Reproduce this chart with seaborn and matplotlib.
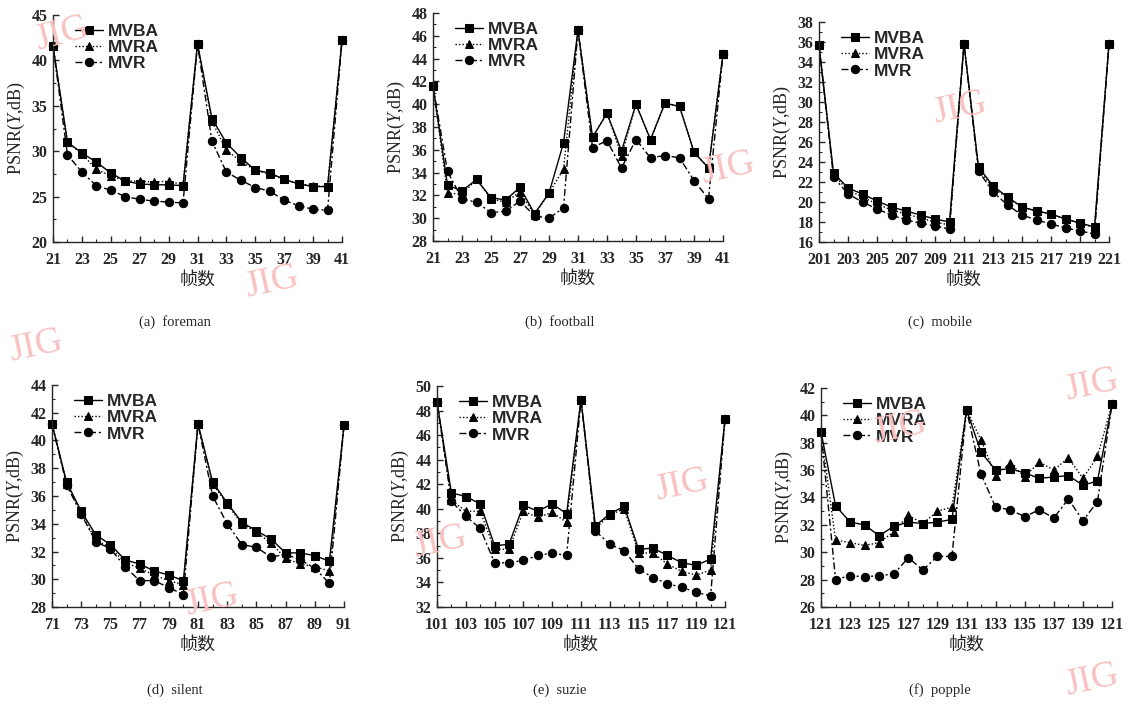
import numpy as np
import pandas as pd
import matplotlib
matplotlib.use("Agg")
import matplotlib.pyplot as plt
import seaborn as sns
from matplotlib.ticker import MultipleLocator

# ---------------- data ----------------
methods = ["MVBA", "MVRA", "MVR"]

frames_a = list(range(21, 42))
mvba_a = [41.6, 31.0, 29.8, 28.8, 27.6, 26.7, 26.4, 26.3, 26.3, 26.2, 41.8, 33.6, 30.9, 29.3, 27.9, 27.6, 26.9, 26.4, 26.1, 26.1, 42.2]
mvra_a = [41.6, 31.0, 29.7, 28.0, 27.3, 26.7, 26.7, 26.6, 26.7, 26.3, 41.8, 33.3, 30.1, 28.9, 27.9, 27.5, 26.9, 26.4, 26.2, 26.1, 42.2]
mvr_a = [41.6, 29.6, 27.7, 26.2, 25.7, 25.0, 24.7, 24.5, 24.4, 24.3, 41.8, 31.1, 27.7, 26.8, 26.0, 25.6, 24.6, 24.0, 23.6, 23.5, 42.2]

frames_b = list(range(21, 42))
mvba_b = [41.6, 32.9, 32.4, 33.4, 31.8, 31.6, 32.7, 30.4, 32.2, 36.6, 46.5, 37.1, 39.2, 35.9, 40.0, 36.9, 40.1, 39.8, 35.8, 34.4, 44.4]
mvra_b = [41.6, 32.2, 32.1, 33.4, 31.7, 31.4, 32.3, 30.3, 32.2, 34.3, 46.5, 37.1, 39.2, 35.5, 40.0, 36.9, 40.1, 39.8, 35.8, 34.4, 44.4]
mvr_b = [41.6, 34.1, 31.7, 31.4, 30.5, 30.6, 31.5, 30.2, 30.0, 30.9, 46.5, 36.2, 36.8, 34.4, 36.9, 35.3, 35.5, 35.3, 33.3, 31.7, 44.4]

frames_c = list(range(201, 222))
mvba_c = [35.7, 22.9, 21.4, 20.8, 20.1, 19.5, 19.1, 18.7, 18.3, 18.0, 35.8, 23.5, 21.6, 20.5, 19.5, 19.1, 18.8, 18.3, 17.9, 17.5, 35.8]
mvra_c = [35.7, 22.7, 21.2, 20.5, 19.8, 19.2, 18.8, 18.4, 18.0, 17.7, 35.8, 23.3, 21.4, 20.4, 19.5, 19.1, 18.8, 18.3, 17.9, 17.4, 35.8]
mvr_c = [35.7, 22.5, 20.8, 20.0, 19.3, 18.7, 18.2, 17.9, 17.6, 17.3, 35.8, 23.1, 21.0, 19.7, 18.7, 18.2, 17.8, 17.4, 17.1, 16.8, 35.8]

frames_d = list(range(71, 92))
mvba_d = [41.2, 37.0, 34.9, 33.2, 32.5, 31.4, 31.1, 30.6, 30.3, 29.9, 41.2, 37.0, 35.5, 34.1, 33.5, 32.9, 31.9, 31.9, 31.7, 31.3, 41.1]
mvra_d = [41.2, 36.9, 34.8, 32.8, 32.3, 31.2, 30.8, 30.3, 29.9, 29.6, 41.2, 36.9, 35.4, 34.0, 33.4, 32.6, 31.5, 31.1, 30.9, 30.6, 41.1]
mvr_d = [41.2, 36.8, 34.7, 32.7, 32.2, 30.9, 29.9, 29.9, 29.4, 28.9, 41.2, 36.0, 34.0, 32.5, 32.3, 31.6, 31.8, 31.4, 30.8, 29.7, 41.1]

frames_e = list(range(101, 122))
mvba_e = [48.7, 41.3, 41.0, 40.4, 37.0, 37.1, 40.3, 39.8, 40.4, 39.6, 48.9, 38.6, 39.6, 40.2, 36.7, 36.8, 36.2, 35.6, 35.4, 35.9, 47.3]
mvra_e = [48.7, 40.7, 39.8, 39.8, 36.7, 36.7, 39.8, 39.3, 39.7, 38.9, 48.9, 38.4, 39.5, 40.0, 36.4, 36.4, 35.5, 34.9, 34.6, 35.0, 47.3]
mvr_e = [48.7, 40.6, 39.4, 38.4, 35.6, 35.6, 35.8, 36.2, 36.4, 36.2, 48.9, 38.2, 37.1, 36.6, 35.1, 34.4, 33.9, 33.6, 33.2, 32.9, 47.3]

frames_f = list(range(121, 142))
mvba_f = [38.8, 33.4, 32.2, 32.0, 31.2, 31.9, 32.2, 32.1, 32.2, 32.4, 40.4, 37.3, 36.0, 36.1, 35.8, 35.4, 35.5, 35.6, 34.9, 35.2, 40.8]
mvra_f = [38.8, 30.9, 30.7, 30.5, 30.7, 31.5, 32.7, 32.1, 33.0, 33.3, 40.4, 38.2, 35.6, 36.5, 35.5, 36.6, 36.0, 36.9, 35.4, 37.0, 40.8]
mvr_f = [38.8, 28.0, 28.3, 28.2, 28.3, 28.4, 29.6, 28.7, 29.7, 29.7, 40.4, 35.7, 33.3, 33.1, 32.6, 33.1, 32.5, 33.9, 32.3, 33.7, 40.8]

ticks_a = ["21", "23", "25", "27", "29", "31", "33", "35", "37", "39", "41"]
ticks_b = ticks_a
ticks_c = ["201", "203", "205", "207", "209", "211", "213", "215", "217", "219", "221"]
ticks_d = ["71", "73", "75", "77", "79", "81", "83", "85", "87", "89", "91"]
ticks_e = ["101", "103", "105", "107", "109", "111", "113", "115", "117", "119", "121"]
ticks_f = ["121", "123", "125", "127", "129", "131", "133", "135", "137", "139", "121"]

captions = ["(a)  foreman", "(b)  football", "(c)  mobile", "(d)  silent", "(e)  suzie", "(f)  popple"]

panels = [
    (frames_a, mvba_a, mvra_a, mvr_a, ticks_a, (20, 45), 5),
    (frames_b, mvba_b, mvra_b, mvr_b, ticks_b, (28, 48), 2),
    (frames_c, mvba_c, mvra_c, mvr_c, ticks_c, (16, 38), 2),
    (frames_d, mvba_d, mvra_d, mvr_d, ticks_d, (28, 44), 2),
    (frames_e, mvba_e, mvra_e, mvr_e, ticks_e, (32, 50), 2),
    (frames_f, mvba_f, mvra_f, mvr_f, ticks_f, (26, 42), 2),
]

# ---------------- style ----------------
sns.set_style("ticks")
plt.rcParams["font.family"] = ["Liberation Serif", "Noto Sans CJK SC", "DejaVu Sans"]
plt.rcParams["mathtext.fontset"] = "custom"
plt.rcParams["mathtext.rm"] = "Liberation Serif"
plt.rcParams["mathtext.it"] = "Liberation Serif:italic"
plt.rcParams["axes.linewidth"] = 1.0

fig = plt.figure(figsize=(11.32, 7.04), dpi=100)
W, H = 1132, 704
boxes = [
    (53, 15, 342, 242), (433, 13, 723, 241), (819, 22, 1109, 242),
    (52, 385, 344, 607), (437, 386, 725, 607), (821, 388, 1112, 607),
]

# watermarks
wm = [(62, 34, 15), (272, 282, 12), (36, 346, 12), (728, 168, 12), (960, 108, 12),
      (212, 600, 12), (440, 542, 12), (682, 485, 12), (900, 428, 12), (1092, 680, 12), (1092, 385, 12)]
for x, y, r in wm:
    fig.text(x / W, 1 - y / H, "JIG", color="#f9c2c2", fontsize=27, family="Liberation Serif",
             rotation=r, ha="center", va="center", zorder=0)

palette = {m: "black" for m in methods}
markers = {"MVBA": "s", "MVRA": "^", "MVR": "o"}
dashes = {"MVBA": "", "MVRA": (1, 1.5), "MVR": (5, 2, 1.5, 2)}

for i, (fr, a, b, c, tl, ylim, ymaj) in enumerate(panels):
    x0, y0, x1, y1 = boxes[i]
    ax = fig.add_axes([x0 / W, 1 - y1 / H, (x1 - x0) / W, (y1 - y0) / H])
    df = pd.DataFrame({
        "frame": fr * 3,
        "psnr": a + b + c,
        "method": ["MVBA"] * len(fr) + ["MVRA"] * len(fr) + ["MVR"] * len(fr),
    })
    sns.lineplot(data=df, x="frame", y="psnr", hue="method", style="method",
                 hue_order=methods, style_order=methods, palette=palette,
                 markers=markers, dashes=dashes, markersize=6, linewidth=1.0,
                 markeredgecolor="black", ax=ax, legend=True, clip_on=False)
    handles, labels = ax.get_legend_handles_labels()
    ax.legend(handles, labels, loc="upper left", bbox_to_anchor=(0.04, 1.005), frameon=False,
              prop={"family": "Liberation Sans", "weight": "bold", "size": 12.5},
              handlelength=1.6, handletextpad=0.3, labelspacing=0.05, borderaxespad=0.2)
    ax.set_xlim(fr[0], fr[-1])
    ax.set_ylim(*ylim)
    ax.set_xticks(fr[::2])
    ax.set_xticklabels(tl)
    ax.xaxis.set_minor_locator(MultipleLocator(1))
    ax.yaxis.set_major_locator(MultipleLocator(ymaj))
    ax.yaxis.set_minor_locator(MultipleLocator(ymaj / 2))
    ax.tick_params(axis="both", which="major", direction="in", length=4, width=1,
                   labelsize=11.5)
    ax.tick_params(axis="x", which="major", pad=7)
    ax.tick_params(axis="y", which="major", pad=4)
    ax.tick_params(axis="both", which="minor", direction="in", length=2, width=0.8)
    for lab in ax.get_xticklabels() + ax.get_yticklabels():
        lab.set_fontweight("bold")
    ax.set_xlabel("帧数", family=["Noto Sans CJK SC"], fontsize=13, labelpad=2)
    ax.set_ylabel(r"PSNR($\mathit{Y}$,dB)", fontsize=13, labelpad=3)
    sns.despine(ax=ax)
    ax.patch.set_alpha(0)

cap_pos = [(175, 322), (560, 322), (940, 322), (175, 690), (560, 690), (940, 690)]
for (cx, cy), t in zip(cap_pos, captions):
    fig.text(cx / W, 1 - cy / H, t, ha="center", va="center", fontsize=10.5,
             family="Liberation Serif")

fig.savefig("out.png", dpi=100)
